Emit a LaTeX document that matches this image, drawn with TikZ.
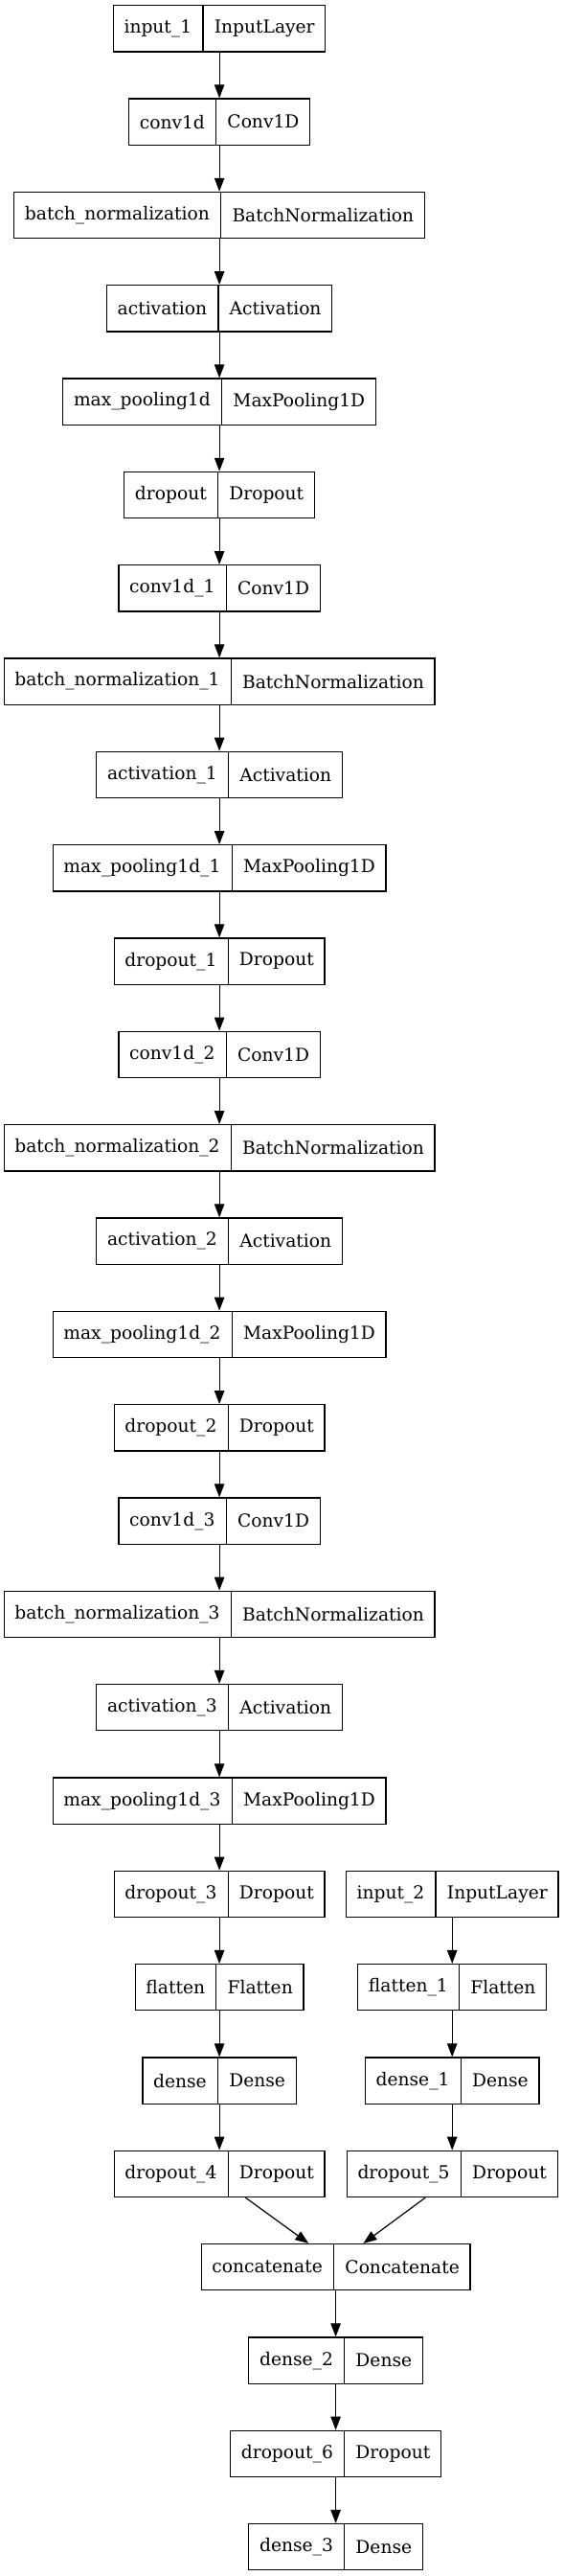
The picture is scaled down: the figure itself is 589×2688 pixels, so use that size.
\documentclass[tikz,border=0pt]{standalone}
\usepackage{fontspec}
\setmainfont{DejaVu Serif}
\usetikzlibrary{shapes.multipart,arrows.meta}

\tikzset{
  layer/.style={draw, line width=0.6pt, rectangle split, rectangle split horizontal,
    rectangle split parts=2, inner xsep=5.6pt, inner ysep=0pt,
    minimum height=24.15pt, font=\fontsize{9.33}{11}\selectfont},
  flow/.style={-{Triangle[length=7pt,width=5.2pt]}, line width=0.6pt}
}

\begin{document}
\begin{tikzpicture}[x=0.5pt,y=-0.5pt]
  \useasboundingbox (0,0) rectangle (589,2688);

  % main branch
  \node[layer] (in1)   at (229.1,29.8)   {input\_1\nodepart{two}InputLayer};
  \node[layer] (conv0) at (229.1,127.1)  {conv1d\nodepart{two}Conv1D};
  \node[layer] (bn0)   at (229.1,224.5)  {batch\_normalization\nodepart{two}BatchNormalization};
  \node[layer] (act0)  at (229.1,321.8)  {activation\nodepart{two}Activation};
  \node[layer] (pool0) at (229.1,419.1)  {max\_pooling1d\nodepart{two}MaxPooling1D};
  \node[layer] (drop0) at (229.1,516.5)  {dropout\nodepart{two}Dropout};
  \node[layer] (conv1) at (229.1,613.8)  {conv1d\_1\nodepart{two}Conv1D};
  \node[layer] (bn1)   at (229.1,711.1)  {batch\_normalization\_1\nodepart{two}BatchNormalization};
  \node[layer] (act1)  at (229.1,808.4)  {activation\_1\nodepart{two}Activation};
  \node[layer] (pool1) at (229.1,905.8)  {max\_pooling1d\_1\nodepart{two}MaxPooling1D};
  \node[layer] (drop1) at (229.1,1003.1) {dropout\_1\nodepart{two}Dropout};
  \node[layer] (conv2) at (229.1,1100.4) {conv1d\_2\nodepart{two}Conv1D};
  \node[layer] (bn2)   at (229.1,1197.8) {batch\_normalization\_2\nodepart{two}BatchNormalization};
  \node[layer] (act2)  at (229.1,1295.1) {activation\_2\nodepart{two}Activation};
  \node[layer] (pool2) at (229.1,1392.4) {max\_pooling1d\_2\nodepart{two}MaxPooling1D};
  \node[layer] (drop2) at (229.1,1489.8) {dropout\_2\nodepart{two}Dropout};
  \node[layer] (conv3) at (229.1,1587.1) {conv1d\_3\nodepart{two}Conv1D};
  \node[layer] (bn3)   at (229.1,1684.4) {batch\_normalization\_3\nodepart{two}BatchNormalization};
  \node[layer] (act3)  at (229.1,1781.7) {activation\_3\nodepart{two}Activation};
  \node[layer] (pool3) at (229.1,1879.1) {max\_pooling1d\_3\nodepart{two}MaxPooling1D};
  \node[layer] (drop3) at (229.1,1976.4) {dropout\_3\nodepart{two}Dropout};
  \node[layer] (flat0) at (229.1,2073.7) {flatten\nodepart{two}Flatten};
  \node[layer] (den0)  at (229.1,2171.1) {dense\nodepart{two}Dense};
  \node[layer] (drop4) at (229.1,2268.4) {dropout\_4\nodepart{two}Dropout};

  % second input
  \node[layer] (in2)   at (472.2,1976.4) {input\_2\nodepart{two}InputLayer};
  \node[layer] (flat1) at (472.2,2073.7) {flatten\_1\nodepart{two}Flatten};
  \node[layer] (den1)  at (472.2,2171.1) {dense\_1\nodepart{two}Dense};
  \node[layer] (drop5) at (472.2,2268.4) {dropout\_5\nodepart{two}Dropout};

  % head
  \node[layer] (cat)   at (350.6,2365.7) {concatenate\nodepart{two}Concatenate};
  \node[layer] (den2)  at (350.6,2463.1) {dense\_2\nodepart{two}Dense};
  \node[layer] (drop6) at (350.6,2560.4) {dropout\_6\nodepart{two}Dropout};
  \node[layer] (den3)  at (350.6,2657.7) {dense\_3\nodepart{two}Dense};

  \draw[flow] (in1) -- (conv0);
  \draw[flow] (conv0) -- (bn0);
  \draw[flow] (bn0) -- (act0);
  \draw[flow] (act0) -- (pool0);
  \draw[flow] (pool0) -- (drop0);
  \draw[flow] (drop0) -- (conv1);
  \draw[flow] (conv1) -- (bn1);
  \draw[flow] (bn1) -- (act1);
  \draw[flow] (act1) -- (pool1);
  \draw[flow] (pool1) -- (drop1);
  \draw[flow] (drop1) -- (conv2);
  \draw[flow] (conv2) -- (bn2);
  \draw[flow] (bn2) -- (act2);
  \draw[flow] (act2) -- (pool2);
  \draw[flow] (pool2) -- (drop2);
  \draw[flow] (drop2) -- (conv3);
  \draw[flow] (conv3) -- (bn3);
  \draw[flow] (bn3) -- (act3);
  \draw[flow] (act3) -- (pool3);
  \draw[flow] (pool3) -- (drop3);
  \draw[flow] (drop3) -- (flat0);
  \draw[flow] (flat0) -- (den0);
  \draw[flow] (den0) -- (drop4);
  \draw[flow] (in2) -- (flat1);
  \draw[flow] (flat1) -- (den1);
  \draw[flow] (den1) -- (drop5);
  \draw[flow] ([xshift=13.65pt]drop4.south) -- ([xshift=-14.15pt]cat.north);
  \draw[flow] ([xshift=-14pt]drop5.south) -- ([xshift=14.4pt]cat.north);
  \draw[flow] (cat) -- (den2);
  \draw[flow] (den2) -- (drop6);
  \draw[flow] (drop6) -- (den3);
\end{tikzpicture}
\end{document}
